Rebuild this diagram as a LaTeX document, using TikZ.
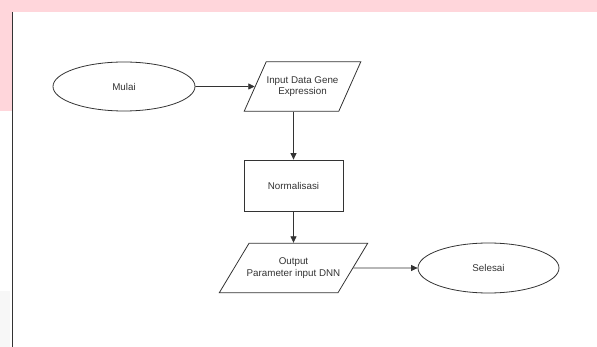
\documentclass[tikz,border=0pt]{standalone}
\usepackage{fontspec}
\setmainfont{Liberation Sans}
\usetikzlibrary{shapes.geometric,arrows.meta}
\definecolor{bandpink}{RGB}{255,214,219}
\definecolor{sidegray}{RGB}{247,247,247}
\definecolor{linegray}{RGB}{51,51,51}
\begin{document}
\begin{tikzpicture}[x=1pt,y=-1pt,>={Triangle[length=6.5pt,width=6pt]}]
        \tikzstyle{chartbox} = [draw=linegray,line width=0.8pt,text=linegray,inner sep=0pt,align=center,font=\fontsize{9.8}{11.5}\selectfont]
        \tikzstyle{startstop} = [chartbox,ellipse,minimum height=49pt]
        \tikzstyle{inout} = [chartbox,trapezium,inner ysep=14.6pt]
        \tikzstyle{process} = [chartbox,rectangle,minimum width=99pt,minimum height=51pt]
        \tikzstyle{flow} = [->,draw=linegray,line width=0.8pt]

        % page background
        \useasboundingbox (0,0) rectangle (597,347);
        \fill[bandpink] (0,0) rectangle (597,12);
        \fill[bandpink] (0,12) rectangle (12,111);
        \fill[sidegray] (0,291) rectangle (10,347);
        \draw[linegray,line width=0.9pt] (12.3,12) -- (12.3,347);

        \node[startstop,minimum width=142pt] (mulai) at (124,86.5){Mulai};
        \node[inout,inner xsep=0.3pt,trapezium left angle=66,trapezium right angle=114] (input) at (302.5,86.5){Input Data Gene\\Expression};
        \node[process] (norm) at (293.5,185.5){Normalisasi};
        \node[inout,inner xsep=-2.4pt,trapezium left angle=59,trapezium right angle=121] (output) at (293.5,268){Output\\Parameter input DNN};
        \node[startstop,minimum width=141pt,minimum height=50pt] (selesai) at (488.5,268){Selesai};

        \draw[flow] (mulai) -- (input);
        \draw[flow] (input.south -| norm.north) -- (norm.north);
        \draw[flow] (norm.south) -- (norm.south |- output.north);
        \draw[flow] (output) -- (selesai);

    \end{tikzpicture}
\end{document}
